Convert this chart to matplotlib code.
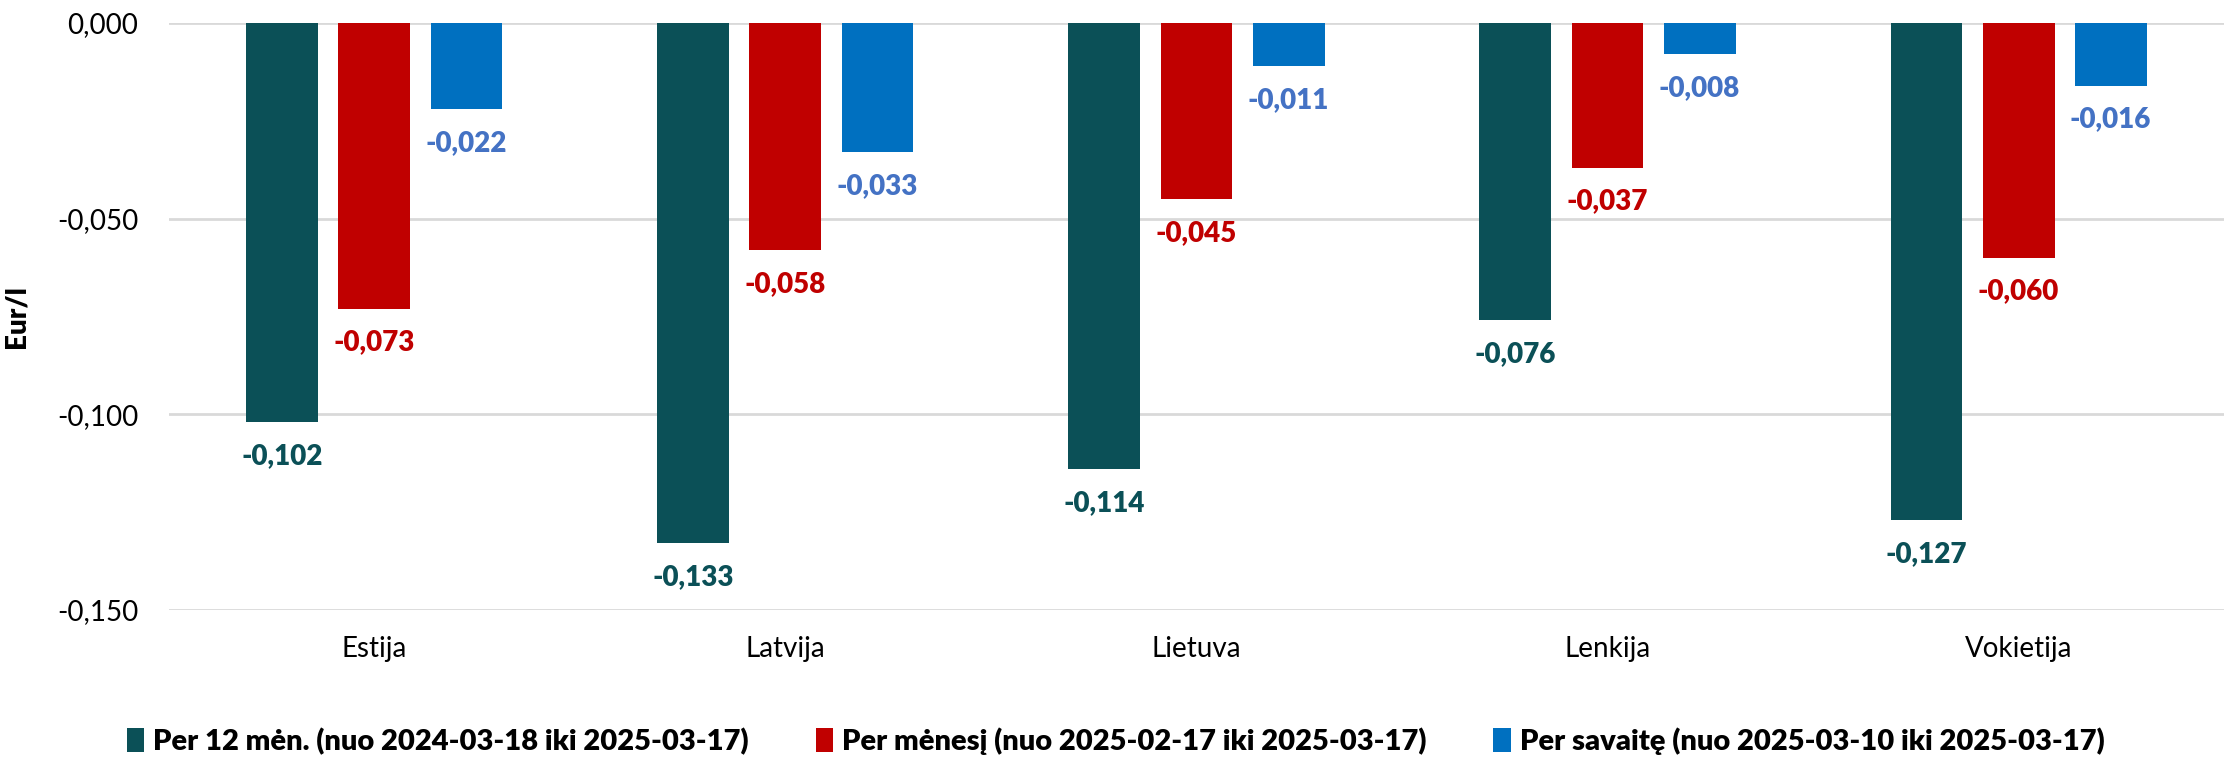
import matplotlib
matplotlib.use('Agg')
import matplotlib.pyplot as plt
import numpy as np

# Data
countries = ['Estija', 'Latvija', 'Lietuva', 'Lenkija', 'Vokietija']
year_change = [-0.102, -0.133, -0.114, -0.076, -0.127]
month_change = [-0.073, -0.058, -0.045, -0.037, -0.060]
week_change = [-0.022, -0.033, -0.011, -0.008, -0.016]
series_names = ['Per 12 mėn. (nuo 2024-03-18 iki 2025-03-17)',
                'Per mėnesį (nuo 2025-02-17 iki 2025-03-17)',
                'Per savaitę (nuo 2025-03-10 iki 2025-03-17)']
y_ticks = [0.0, -0.05, -0.10, -0.15]

bar_colors = ['#0B5057', '#C00000', '#0070C0']
label_colors = ['#0B5057', '#C00000', '#4472C4']

plt.rcParams['font.family'] = ['Lato', 'DejaVu Sans']

fig = plt.figure(figsize=(22.31, 7.66), dpi=100)
ax = fig.add_axes([0.0757, 0.2037, 0.9212, 0.7663])

x = np.arange(len(countries))
width = 0.175
step = 0.224
for i, vals in enumerate([year_change, month_change, week_change]):
    bars = ax.bar(x + (i - 1) * step, vals, width, color=bar_colors[i],
                  label=series_names[i], zorder=3)
    for b, v in zip(bars, vals):
        ax.annotate(f'{v:.3f}'.replace('.', ','),
                    (b.get_x() + b.get_width() / 2, v),
                    xytext=(0, -15), textcoords='offset points',
                    ha='center', va='top', fontsize=20, fontweight='heavy',
                    color=label_colors[i])

ax.set_xlim(-0.5, len(countries) - 0.5)
ax.set_ylim(-0.15, 0)
ax.set_yticks(y_ticks)
ax.set_yticklabels([f'{t:.3f}'.replace('.', ',') for t in y_ticks], fontsize=20)
ax.set_xticks(x)
ax.set_xticklabels(countries, fontsize=20)
ax.tick_params(axis='both', length=0)
ax.tick_params(axis='y', pad=22)
ax.tick_params(axis='x', pad=19)
ax.grid(axis='y', color='#D9D9D9', linewidth=2, zorder=0)
for s in ax.spines.values():
    s.set_visible(False)
ax.set_ylabel('Eur/l', fontsize=20, fontweight='heavy')
ax.yaxis.set_label_coords(-0.068, 0.5)

fig.legend(loc='lower center', bbox_to_anchor=(0.5, -0.02), ncol=3, frameon=False,
           prop={'weight': 'heavy', 'size': 21},
           handlelength=0.6, handleheight=0.9, handletextpad=0.3, columnspacing=2.3)

fig.savefig('out.png', dpi=100)
